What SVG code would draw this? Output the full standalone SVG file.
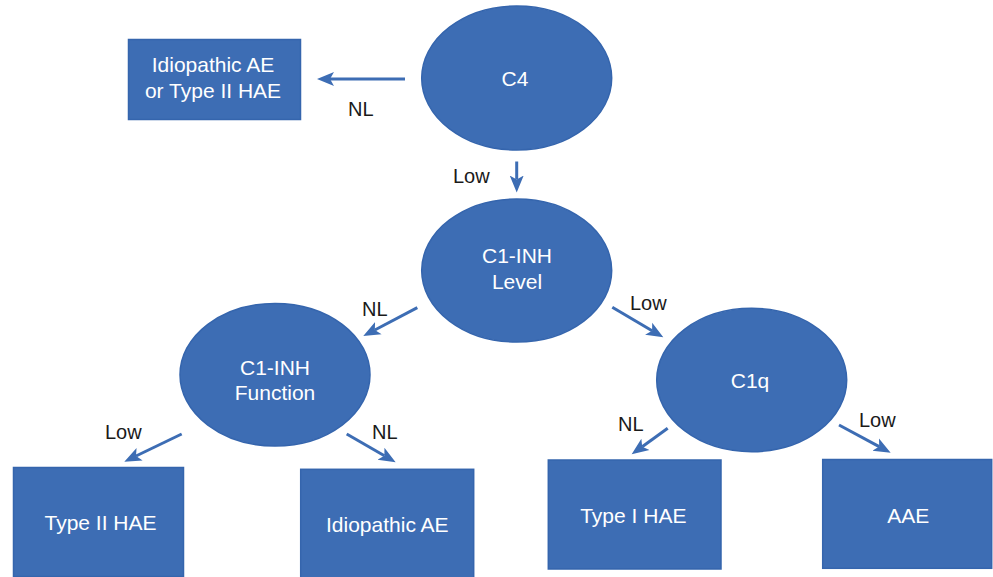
<svg xmlns="http://www.w3.org/2000/svg" width="993" height="577" viewBox="0 0 993 577">
  <style>
    .node { fill: #3d6db4; stroke: #3565ad; stroke-width: 1.5; }
    .ntext { font-family: "Liberation Sans", Arial, sans-serif; font-size: 21px; fill: #ffffff; text-anchor: middle; }
    .edge { stroke: #3d6db4; stroke-width: 3; fill: none; marker-end: url(#arrow); }
    .elabel { font-family: "Liberation Sans", Arial, sans-serif; font-size: 20px; fill: #1a1a1a; }
  </style>
  <defs>
    <marker id="arrow" markerUnits="userSpaceOnUse" markerWidth="24" markerHeight="20" refX="4" refY="8" orient="auto" viewBox="0 0 24 16">
      <path d="M17,8 L0,1 L4,8 L0,15 Z" fill="#3d6db4"/>
    </marker>
  </defs>
  <rect width="993" height="577" fill="#ffffff"/>

  <!-- decision nodes (ellipses) and outcomes (boxes) -->
  <g id="c4">
    <ellipse class="node" cx="516.7" cy="78" rx="95" ry="72"/>
    <text class="ntext" x="515" y="86">C4</text>
  </g>
  <g id="idiopathic-or-type2">
    <rect class="node" x="128.5" y="39.5" width="172" height="80"/>
    <text class="ntext" x="213" y="72">Idiopathic AE</text>
    <text class="ntext" x="213" y="98">or Type II HAE</text>
  </g>
  <g id="c1inh-level">
    <ellipse class="node" cx="516.7" cy="270.5" rx="95" ry="71.5"/>
    <text class="ntext" x="517" y="263">C1-INH</text>
    <text class="ntext" x="517" y="288.5">Level</text>
  </g>
  <g id="c1inh-function">
    <ellipse class="node" cx="275" cy="374.7" rx="95" ry="71.3"/>
    <text class="ntext" x="275" y="375">C1-INH</text>
    <text class="ntext" x="275" y="400">Function</text>
  </g>
  <g id="c1q">
    <ellipse class="node" cx="751.7" cy="380" rx="95" ry="71.7"/>
    <text class="ntext" x="750" y="388">C1q</text>
  </g>
  <g id="type2-hae">
    <rect class="node" x="13.5" y="467.5" width="170" height="109"/>
    <text class="ntext" x="100.5" y="529.5">Type II HAE</text>
  </g>
  <g id="idiopathic-ae">
    <rect class="node" x="300.7" y="469.3" width="173" height="110"/>
    <text class="ntext" x="387.3" y="532.3">Idiopathic AE</text>
  </g>
  <g id="type1-hae">
    <rect class="node" x="548.3" y="460" width="172.7" height="109"/>
    <text class="ntext" x="633.3" y="523.3">Type I HAE</text>
  </g>
  <g id="aae">
    <rect class="node" x="822.7" y="459.5" width="169" height="108.8"/>
    <text class="ntext" x="908.3" y="522.5">AAE</text>
  </g>

  <!-- connectors with their result labels -->
  <g id="connectors">
    <line class="edge" x1="405" y1="79" x2="330" y2="79"/>
    <line class="edge" x1="516.7" y1="161.5" x2="516.7" y2="179.5"/>
    <line class="edge" x1="417.3" y1="307.7" x2="374.8" y2="330"/>
    <line class="edge" x1="612.3" y1="307.3" x2="652.1" y2="330.7"/>
    <line class="edge" x1="181.7" y1="434" x2="136" y2="456"/>
    <line class="edge" x1="346.7" y1="434" x2="384.4" y2="455.8"/>
    <line class="edge" x1="667.7" y1="428.3" x2="642.2" y2="446.7"/>
    <line class="edge" x1="839" y1="425" x2="879.2" y2="446.6"/>

    <text class="elabel" x="348" y="116">NL</text>
    <text class="elabel" x="453" y="183">Low</text>
    <text class="elabel" x="362" y="316">NL</text>
    <text class="elabel" x="630" y="310">Low</text>
    <text class="elabel" x="105" y="439">Low</text>
    <text class="elabel" x="372" y="439">NL</text>
    <text class="elabel" x="618" y="431">NL</text>
    <text class="elabel" x="859" y="427">Low</text>
  </g>
</svg>
